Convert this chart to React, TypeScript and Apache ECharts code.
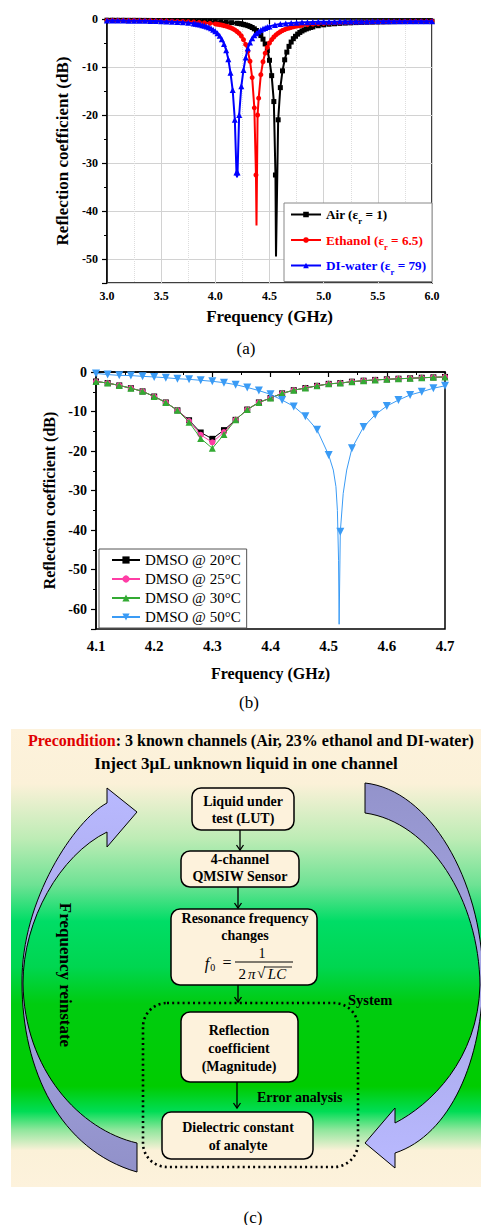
import React, { useEffect, useRef } from 'react';
import * as echarts from 'echarts';

const SERIF = '"Liberation Serif", "Times New Roman", serif';

// ---------- Panel (a) data: [frequency GHz, reflection dB] ----------
const airCurve: [number, number][] = [
  [3.00,-0.25],[3.05,-0.25],[3.10,-0.26],[3.15,-0.26],[3.20,-0.27],[3.25,-0.27],[3.30,-0.28],[3.35,-0.29],[3.40,-0.30],[3.45,-0.31],[3.50,-0.32],[3.55,-0.33],[3.60,-0.34],[3.65,-0.35],[3.70,-0.37],[3.75,-0.39],[3.80,-0.41],[3.85,-0.44],[3.90,-0.47],[3.95,-0.51],[4.00,-0.55],[4.05,-0.60],[4.10,-0.67],[4.15,-0.76],[4.20,-0.88],[4.22,-0.95],[4.24,-1.03],[4.26,-1.12],[4.28,-1.24],[4.30,-1.38],[4.32,-1.55],[4.34,-1.77],[4.36,-2.05],[4.38,-2.40],[4.40,-2.85],[4.42,-3.45],[4.44,-4.20],[4.46,-5.20],[4.48,-6.60],[4.50,-8.60],[4.52,-11.8],[4.54,-17.2],[4.555,-32.5],[4.56,-49.5],[4.58,-21.0],[4.60,-14.3],[4.62,-10.8],[4.64,-8.5],[4.66,-6.9],[4.68,-5.7],[4.70,-4.8],[4.72,-4.1],[4.74,-3.6],[4.76,-3.15],[4.78,-2.8],[4.80,-2.5],[4.82,-2.26],[4.84,-2.06],[4.86,-1.9],[4.88,-1.76],[4.90,-1.64],[4.95,-1.40],[5.00,-1.22],[5.05,-1.09],[5.10,-0.99],[5.15,-0.91],[5.20,-0.85],[5.25,-0.80],[5.30,-0.75],[5.35,-0.71],[5.40,-0.68],[5.45,-0.65],[5.50,-0.62],[5.55,-0.60],[5.60,-0.58],[5.65,-0.56],[5.70,-0.54],[5.75,-0.53],[5.80,-0.52],[5.85,-0.50],[5.90,-0.49],[5.95,-0.48],[6.00,-0.47]
];
const airUnmarked = [4.56];

const ethanolCurve: [number, number][] = [
  [3.00,-0.27],[3.05,-0.28],[3.10,-0.29],[3.15,-0.30],[3.20,-0.31],[3.25,-0.32],[3.30,-0.33],[3.35,-0.35],[3.40,-0.36],[3.45,-0.38],[3.50,-0.40],[3.55,-0.42],[3.60,-0.45],[3.65,-0.48],[3.70,-0.52],[3.75,-0.57],[3.80,-0.63],[3.85,-0.70],[3.90,-0.79],[3.95,-0.90],[4.00,-1.03],[4.02,-1.10],[4.04,-1.18],[4.06,-1.27],[4.08,-1.38],[4.10,-1.50],[4.12,-1.64],[4.14,-1.81],[4.16,-2.02],[4.18,-2.28],[4.20,-2.60],[4.22,-3.00],[4.24,-3.55],[4.26,-4.30],[4.28,-5.30],[4.30,-6.70],[4.32,-8.80],[4.34,-12.2],[4.36,-18.5],[4.375,-32.5],[4.38,-43.0],[4.39,-20.0],[4.40,-16.5],[4.42,-11.6],[4.44,-8.9],[4.46,-7.1],[4.48,-5.9],[4.50,-5.0],[4.52,-4.3],[4.54,-3.75],[4.56,-3.3],[4.58,-2.95],[4.60,-2.65],[4.62,-2.4],[4.64,-2.2],[4.66,-2.02],[4.68,-1.87],[4.70,-1.74],[4.72,-1.63],[4.74,-1.53],[4.76,-1.45],[4.78,-1.38],[4.80,-1.31],[4.85,-1.17],[4.90,-1.06],[4.95,-0.98],[5.00,-0.91],[5.05,-0.85],[5.10,-0.80],[5.15,-0.76],[5.20,-0.72],[5.25,-0.69],[5.30,-0.66],[5.35,-0.64],[5.40,-0.62],[5.45,-0.60],[5.50,-0.58],[5.55,-0.57],[5.60,-0.55],[5.65,-0.54],[5.70,-0.53],[5.75,-0.52],[5.80,-0.51],[5.85,-0.50],[5.90,-0.49],[5.95,-0.48],[6.00,-0.47]
];
const ethanolUnmarked = [4.38];

const diWaterCurve: [number, number][] = [
  [3.00,-0.30],[3.05,-0.31],[3.10,-0.32],[3.15,-0.33],[3.20,-0.34],[3.25,-0.35],[3.30,-0.37],[3.35,-0.39],[3.40,-0.41],[3.45,-0.44],[3.50,-0.47],[3.55,-0.51],[3.60,-0.56],[3.65,-0.62],[3.70,-0.70],[3.75,-0.80],[3.80,-0.93],[3.82,-1.00],[3.84,-1.08],[3.86,-1.17],[3.88,-1.28],[3.90,-1.40],[3.92,-1.55],[3.94,-1.73],[3.96,-1.95],[3.98,-2.22],[4.00,-2.55],[4.02,-2.97],[4.04,-3.50],[4.06,-4.20],[4.08,-5.20],[4.10,-6.50],[4.12,-8.40],[4.14,-11.2],[4.16,-14.8],[4.18,-21.0],[4.195,-32.0],[4.20,-33.0],[4.205,-32.0],[4.22,-20.0],[4.24,-14.0],[4.26,-10.6],[4.28,-8.0],[4.30,-6.1],[4.32,-4.9],[4.34,-4.0],[4.36,-3.4],[4.38,-2.95],[4.40,-2.6],[4.42,-2.3],[4.44,-2.05],[4.46,-1.85],[4.48,-1.68],[4.50,-1.54],[4.55,-1.26],[4.60,-1.06],[4.65,-0.93],[4.70,-0.83],[4.75,-0.76],[4.80,-0.70],[4.85,-0.66],[4.90,-0.62],[4.95,-0.59],[5.00,-0.57],[5.05,-0.56],[5.10,-0.55],[5.15,-0.54],[5.20,-0.53],[5.25,-0.52],[5.30,-0.51],[5.35,-0.50],[5.40,-0.50],[5.45,-0.49],[5.50,-0.49],[5.55,-0.48],[5.60,-0.48],[5.65,-0.47],[5.70,-0.47],[5.75,-0.46],[5.80,-0.46],[5.85,-0.46],[5.90,-0.45],[5.95,-0.45],[6.00,-0.45]
];
const diWaterUnmarked = [4.20];

const seriesNamesA = ['Air', 'Ethanol', 'DI-water'];
const legendLabelsA: [string, string][] = [['Air (ε', ' = 1)'], ['Ethanol (ε', ' = 6.5)'], ['DI-water (ε', ' = 79)']];

// ---------- Panel (b) data ----------
const freqB = [4.10,4.12,4.14,4.16,4.18,4.20,4.22,4.24,4.26,4.28,4.30,4.32,4.34,4.36,4.38,4.40,4.42,4.44,4.46,4.48,4.50,4.52,4.54,4.56,4.58,4.60,4.62,4.64,4.66,4.68,4.70];
const dmso20 = [-2.4,-2.8,-3.4,-4.1,-4.9,-6.2,-7.7,-9.7,-12.2,-15.3,-16.9,-14.7,-12.1,-9.5,-7.7,-6.6,-5.4,-4.6,-4.05,-3.5,-3.0,-2.8,-2.45,-2.2,-2.0,-1.85,-1.7,-1.6,-1.45,-1.35,-1.25];
const dmso25 = [-2.4,-2.8,-3.4,-4.1,-4.9,-6.2,-7.7,-9.7,-12.4,-15.9,-17.8,-15.2,-12.1,-9.5,-7.7,-6.6,-5.4,-4.6,-4.05,-3.5,-3.0,-2.8,-2.45,-2.2,-2.0,-1.85,-1.7,-1.6,-1.45,-1.35,-1.25];
const dmso30 = [-2.4,-2.8,-3.4,-4.1,-4.9,-6.2,-7.7,-9.7,-12.7,-16.8,-19.3,-15.8,-12.1,-9.5,-7.7,-6.6,-5.4,-4.6,-4.05,-3.5,-3.0,-2.8,-2.45,-2.2,-2.0,-1.85,-1.7,-1.6,-1.45,-1.35,-1.25];
const dmso50 = [-0.35,-0.65,-0.85,-0.9,-1.1,-1.25,-1.45,-1.7,-1.85,-2.1,-2.35,-2.7,-3.2,-3.9,-4.7,-5.65,-7.1,-8.7,-11.2,-14.6,-21.0,-40.4,-19.3,-13.9,-10.8,-8.6,-7.1,-5.8,-5.0,-4.1,-3.5];
// dense (unmarked) points of the 50 °C resonance dip
const dmso50Dip: [number, number][] = [[4.508,-24.8],[4.5125,-29.0],[4.515,-35.0],[4.517,-47.6],[4.518,-63.8],[4.525,-30.7],[4.531,-24.8]];
const seriesNamesB = ['DMSO @ 20°C', 'DMSO @ 25°C', 'DMSO @ 30°C', 'DMSO @ 50°C'];

const colorsA = ['#000000', '#FF0000', '#0000FF'];
const colorsB = ['#000000', '#FF3DA5', '#33AA33', '#3A9BF5'];

// ---------- shapes for panel (c) ----------
const LEFT_ARROW_D = 'M137 812 L107 788 L107 803 C75 820 21 900 22 983 C22 1070 60 1150 137 1172 L137 1143 C80 1130 24 1070 23 983 C23 920 60 855 107 832 L107 847 Z';
const RIGHT_ARROW_D = 'M365 783 C430 790 481 880 483 975 C483 1060 450 1135 395 1153 L395 1168 L365 1143 L395 1108 L395 1123 C430 1105 478 1060 480 985 C479 900 430 822 365 813 Z';
let shapesRegistered = false;
function registerShapes() {
  if (shapesRegistered) return;
  echarts.graphic.registerShape('leftArrow', echarts.graphic.extendPath(LEFT_ARROW_D, {}) as any);
  echarts.graphic.registerShape('rightArrow', echarts.graphic.extendPath(RIGHT_ARROW_D, {}) as any);
  shapesRegistered = true;
}

const font = (size: number, weight = 'bold', style = 'normal') => `${style} ${weight} ${size}px ${SERIF}`;

function txt(text: string, x: number, y: number, size: number, opts: any = {}) {
  const align = opts.align || 'center';
  return {
    type: 'text', x, y, rotation: opts.rotation || 0, z: 10,
    style: {
      text, font: font(size, opts.weight || 'bold', opts.style || 'normal'), fill: opts.fill || '#000',
      align, textAlign: align, verticalAlign: 'middle', textVerticalAlign: 'middle',
      rich: opts.rich,
    },
  };
}

function box(x: number, y: number, w: number, h: number) {
  return { type: 'rect', z: 5, shape: { x, y, width: w, height: h, r: 9 }, style: { fill: '#FDF2DC', stroke: '#000', lineWidth: 1.5 } };
}

function downArrow(x: number, y1: number, y2: number) {
  return [
    { type: 'line', z: 5, shape: { x1: x, y1, x2: x, y2 }, style: { stroke: '#000', lineWidth: 1.3 } },
    { type: 'polyline', z: 5, shape: { points: [[x - 3.5, y2 - 5], [x, y2], [x + 3.5, y2 - 5]] }, style: { stroke: '#000', lineWidth: 1.3, fill: 'none' } },
  ];
}

function buildData(pairs: [number, number][], unmarked: number[]) {
  return pairs.map((p) => (unmarked.indexOf(p[0]) >= 0 ? { value: p, symbol: 'none' } : p));
}

function buildOption() {
  const tickLabel = (size: number, margin: number) => ({ fontFamily: SERIF, fontWeight: 'bold', fontSize: size, color: '#000', margin });
  const nameStyle = (size: number) => ({ fontFamily: SERIF, fontWeight: 'bold', fontSize: size, color: '#000' });
  const axisLine = { lineStyle: { color: '#000', width: 1.5 } };

  const richA: any = {};
  colorsA.forEach((c, i) => {
    richA['t' + i] = { fontFamily: SERIF, fontWeight: 'bold', fontSize: 13.2, color: c, lineHeight: 16, verticalAlign: 'middle' };
    richA['s' + i] = { fontFamily: SERIF, fontWeight: 'bold', fontSize: 8.5, color: c, lineHeight: 16, verticalAlign: 'bottom', padding: [0, 0, -3, 0] };
  });

  const aSeries = [airCurve, ethanolCurve, diWaterCurve].map((curve, i) => ({
    name: seriesNamesA[i], type: 'line', xAxisIndex: 0, yAxisIndex: 0,
    data: buildData(curve, [airUnmarked, ethanolUnmarked, diWaterUnmarked][i]),
    symbol: ['rect', 'circle', 'triangle'][i], symbolSize: [5, 5, 6][i],
    lineStyle: { color: colorsA[i], width: 2 }, itemStyle: { color: colorsA[i] },
    emphasis: { disabled: true }, z: 3 + i,
  }));

  const bVals = [dmso20, dmso25, dmso30, dmso50];
  const bSeries = bVals.map((vals, i) => {
    let data: any[] = freqB.map((f, k) => [f, vals[k]]);
    if (i === 3) {
      data = data.concat(dmso50Dip.map((p) => ({ value: p, symbol: 'none' })));
      data.sort((a: any, b: any) => (Array.isArray(a) ? a[0] : a.value[0]) - (Array.isArray(b) ? b[0] : b.value[0]));
    }
    return {
      name: seriesNamesB[i], type: 'line', xAxisIndex: 1, yAxisIndex: 1, data,
      symbol: ['rect', 'circle', 'triangle', 'triangle'][i], symbolSize: [6, 6, 7, 8][i],
      symbolRotate: i === 3 ? 180 : 0,
      lineStyle: { color: colorsB[i], width: 1 }, itemStyle: { color: colorsB[i] },
      emphasis: { disabled: true }, z: 3 + i,
    };
  });

  const bgStops = [
    { offset: 0, color: '#FDF2DC' }, { offset: 0.12, color: '#FBF1D8' }, { offset: 0.24, color: '#BDECB5' },
    { offset: 0.34, color: '#6EE294' }, { offset: 0.42, color: '#00DD66' }, { offset: 0.52, color: '#00D650' },
    { offset: 0.6, color: '#00CC10' }, { offset: 0.78, color: '#00CC00' }, { offset: 0.835, color: '#00DD55' },
    { offset: 0.875, color: '#8FE69C' }, { offset: 0.92, color: '#FBF1D8' }, { offset: 1, color: '#FDF2DC' },
  ];

  const graphic: any[] = [
    txt('(a)', 246, 348, 17, { weight: 'normal' }),
    txt('(b)', 249, 702, 17, { weight: 'normal' }),
    txt('(c)', 253, 1217, 17, { weight: 'normal' }),
    { type: 'rect', z: 1, shape: { x: 11, y: 729, width: 470, height: 458 }, style: { fill: new echarts.graphic.LinearGradient(0, 0, 0, 1, bgStops) } },
    { type: 'leftArrow', z: 4, x: 0, y: 0, style: { fill: new echarts.graphic.LinearGradient(0, 0, 0, 1, [{ offset: 0, color: '#B9B9FF' }, { offset: 1, color: '#9191C9' }]), stroke: '#000', lineWidth: 1 } },
    { type: 'rightArrow', z: 4, x: 0, y: 0, style: { fill: new echarts.graphic.LinearGradient(0, 0, 0, 1, [{ offset: 0, color: '#9393CB' }, { offset: 1, color: '#B9B9FF' }]), stroke: '#000', lineWidth: 1 } },
    txt('{r|Precondition}{k|: 3 known channels (Air, 23% ethanol and DI-water)}', 28, 740, 16, {
      align: 'left',
      rich: { r: { font: font(16), fill: '#E00000' }, k: { font: font(16), fill: '#000' } },
    }),
    txt('Inject 3μL unknown liquid in one channel', 246, 763, 17),
    txt('Frequency reinstate', 65, 975, 17, { rotation: -Math.PI / 2 }),
    { type: 'rect', z: 4, shape: { x: 143, y: 1003, width: 215, height: 164, r: 24 }, style: { fill: 'none', stroke: '#000', lineWidth: 2.6, lineDash: [2, 3.2] } },
    txt('System', 348, 1000, 14.5, { align: 'left' }),
    txt('Error analysis', 257, 1097, 14, { align: 'left' }),
    box(192, 788, 102, 42),
    txt('Liquid under', 243, 801, 14), txt('test (LUT)', 243, 818, 14),
    box(181, 851, 118, 36),
    txt('4-channel', 240, 859, 14), txt('QMSIW Sensor', 240, 876, 14),
    box(171, 909, 146, 76),
    txt('Resonance frequency', 245, 918, 14), txt('changes', 245, 935, 14),
    txt('{f|f}{o|0}', 210, 963, 16, { rich: { f: { font: font(16, 'normal', 'italic'), fill: '#000' }, o: { font: font(10, 'normal'), fill: '#000', padding: [8, 0, 0, 1] } } }),
    txt('=', 227, 962, 16, { weight: 'normal' }),
    txt('1', 262, 953, 14, { weight: 'normal' }),
    { type: 'line', z: 6, shape: { x1: 235, y1: 962, x2: 293, y2: 962 }, style: { stroke: '#000', lineWidth: 1 } },
    txt('{n|2}{p|π}', 247, 974, 15, { rich: { n: { font: font(15, 'normal'), fill: '#000' }, p: { font: font(15, 'normal', 'italic'), fill: '#000', padding: [0, 0, 0, 2] } } }),
    txt('√', 261, 973, 15, { weight: 'normal' }),
    txt('LC', 277, 974, 15, { weight: 'normal', style: 'italic' }),
    { type: 'line', z: 6, shape: { x1: 264, y1: 967, x2: 292, y2: 967 }, style: { stroke: '#000', lineWidth: 0.9 } },
    box(181, 1012, 117, 70),
    txt('Reflection', 239, 1030, 14), txt('coefficient', 239, 1048, 14), txt('(Magnitude)', 239, 1066, 14),
    box(162, 1112, 151, 47),
    txt('Dielectric constant', 238, 1127, 14), txt('of analyte', 238, 1145, 14),
    ...downArrow(240, 830, 850),
    ...downArrow(238, 887, 908),
    ...downArrow(238, 985, 1002),
    ...downArrow(237, 1082, 1108),
  ];

  return {
    animation: false,
    backgroundColor: '#fff',
    textStyle: { fontFamily: SERIF },
    grid: [
      { left: 107, top: 19, width: 325, height: 264, show: true, borderColor: '#000', borderWidth: 1.5, backgroundColor: 'transparent' },
      { left: 96, top: 372, width: 349, height: 257, show: true, borderColor: '#000', borderWidth: 1.5, backgroundColor: 'transparent' },
    ],
    xAxis: [
      {
        gridIndex: 0, type: 'value', min: 3, max: 6, interval: 0.5,
        name: 'Frequency (GHz)', nameLocation: 'middle', nameGap: 25, nameTextStyle: nameStyle(17),
        axisLine, axisTick: { length: 5, lineStyle: { color: '#000', width: 1.2 } },
        minorTick: { show: true, splitNumber: 2, length: 3, lineStyle: { color: '#000', width: 1 } },
        axisLabel: { ...tickLabel(12, 7), formatter: (v: number) => v.toFixed(1) },
        splitLine: { show: true, lineStyle: { color: '#d2d2d2', width: 1 } },
        minorSplitLine: { show: true, lineStyle: { color: '#dddddd', width: 1, type: 'dotted' } },
      },
      {
        gridIndex: 1, type: 'value', min: 4.1, max: 4.7, interval: 0.1,
        name: 'Frequency (GHz)', nameLocation: 'middle', nameGap: 36, nameTextStyle: nameStyle(16),
        axisLine, axisTick: { length: 5, lineStyle: { color: '#000', width: 1.2 } },
        minorTick: { show: true, splitNumber: 2, length: 3, lineStyle: { color: '#000', width: 1 } },
        axisLabel: { ...tickLabel(15, 9), formatter: (v: number) => v.toFixed(1) },
        splitLine: { show: false },
      },
    ],
    yAxis: [
      {
        gridIndex: 0, type: 'value', min: -55, max: 0, minInterval: 10, maxInterval: 10,
        name: 'Reflection coefficient (dB)', nameLocation: 'middle', nameGap: 31, nameTextStyle: nameStyle(17),
        axisLine, axisTick: { length: 5, lineStyle: { color: '#000', width: 1.2 } },
        minorTick: { show: true, splitNumber: 2, length: 3, lineStyle: { color: '#000', width: 1 } },
        axisLabel: { ...tickLabel(12, 9), showMinLabel: false },
        splitLine: { show: true, lineStyle: { color: '#d2d2d2', width: 1 } },
      },
      {
        gridIndex: 1, type: 'value', min: -65, max: 0, minInterval: 10, maxInterval: 10,
        name: 'Reflection coefficient (dB)', nameLocation: 'middle', nameGap: 38, nameTextStyle: nameStyle(16),
        axisLine, axisTick: { length: 5, lineStyle: { color: '#000', width: 1.2 } },
        minorTick: { show: true, splitNumber: 2, length: 3, lineStyle: { color: '#000', width: 1 } },
        axisLabel: { ...tickLabel(14, 9), showMinLabel: false },
        splitLine: { show: false },
      },
    ],
    legend: [
      {
        data: seriesNamesA, orient: 'vertical', left: 284, top: 203, width: 142,
        padding: [5, 6, 5, 6], itemGap: 8, itemWidth: 30, itemHeight: 7,
        borderColor: '#888', borderWidth: 1, backgroundColor: '#fff',
        selectedMode: false,
        formatter: (name: string) => {
          const i = seriesNamesA.indexOf(name);
          return `{t${i}|${legendLabelsA[i][0]}}{s${i}|r}{t${i}|${legendLabelsA[i][1]}}`;
        },
        textStyle: { rich: richA },
      },
      {
        data: seriesNamesB, orient: 'vertical', left: 99, top: 549,
        padding: [3, 6, 3, 12], itemGap: 3, itemWidth: 28, itemHeight: 9,
        borderColor: '#555', borderWidth: 1, backgroundColor: '#fff',
        selectedMode: false,
        textStyle: { fontFamily: SERIF, fontSize: 15, color: '#000', lineHeight: 16 },
      },
    ],
    series: [...aSeries, ...bSeries],
    graphic,
  };
}

export default function App() {
  const ref = useRef<HTMLDivElement>(null);
  useEffect(() => {
    registerShapes();
    const chart = echarts.init(ref.current!, null, { renderer: 'svg' });
    chart.setOption(buildOption() as any);
    return () => chart.dispose();
  }, []);
  return <div ref={ref} style={{ position: 'absolute', left: 0, top: 0, width: 481, height: 1225 }} />;
}
